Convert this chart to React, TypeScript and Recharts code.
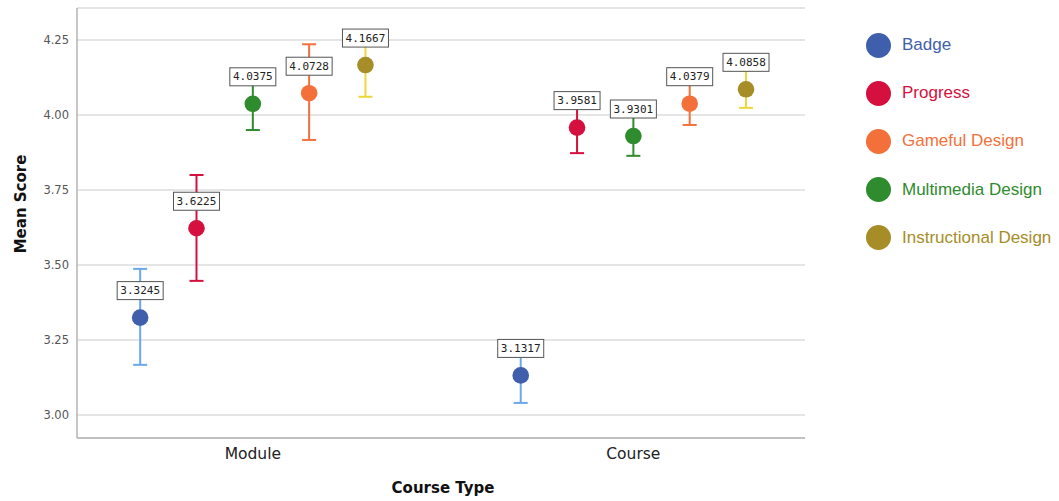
import React from 'react';
import {
  ScatterChart,
  Scatter,
  XAxis,
  YAxis,
  CartesianGrid,
  ErrorBar,
  LabelList,
} from 'recharts';

// Data
const categories = ['Module', 'Course'];
const seriesNames = ['Badge', 'Progress', 'Gameful Design', 'Multimedia Design', 'Instructional Design'];
const badgeMean = [3.3245, 3.1317];
const badgeLow = [3.167, 3.04];
const badgeHigh = [3.487, 3.22];
const progressMean = [3.6225, 3.9581];
const progressLow = [3.447, 3.873];
const progressHigh = [3.8, 4.048];
const gamefulMean = [4.0728, 4.0379];
const gamefulLow = [3.917, 3.967];
const gamefulHigh = [4.236, 4.108];
const multimediaMean = [4.0375, 3.9301];
const multimediaLow = [3.95, 3.864];
const multimediaHigh = [4.125, 3.996];
const instructionalMean = [4.1667, 4.0858];
const instructionalLow = [4.061, 4.024];
const instructionalHigh = [4.272, 4.148];
const yTicks = [3.0, 3.25, 3.5, 3.75, 4.0, 4.25];

// Colors
const markerColors = ['#3f5fad', '#d5103f', '#f3703a', '#2e8b2e', '#a68d27'];
const errorColors = ['#6aa8ec', '#d5103f', '#f3703a', '#2e8b2e', '#ecd83a'];

// slot within each category: Badge, Progress, Multimedia (centre), Gameful, Instructional
const slots = [-2, -1, 1, 0, 2];
const SLOT_W = 0.148;

const buildSeries = (mean: number[], low: number[], high: number[], slot: number) =>
  categories.map((c, i) => ({
    x: i + 1 + slot * SLOT_W,
    y: mean[i],
    err: [mean[i] - low[i], high[i] - mean[i]],
  }));

const seriesData = [
  buildSeries(badgeMean, badgeLow, badgeHigh, slots[0]),
  buildSeries(progressMean, progressLow, progressHigh, slots[1]),
  buildSeries(gamefulMean, gamefulLow, gamefulHigh, slots[2]),
  buildSeries(multimediaMean, multimediaLow, multimediaHigh, slots[3]),
  buildSeries(instructionalMean, instructionalLow, instructionalHigh, slots[4]),
];

const ValueBox = (props: any) => {
  const vb = props.viewBox && props.viewBox.width !== undefined ? props.viewBox : props;
  const cx = vb.x + (vb.width || 0) / 2;
  const cy = vb.y + (vb.height || 0) / 2;
  const text = Number(props.value).toFixed(4);
  return (
    <g>
      <rect x={cx - 23} y={cy - 36} width={46} height={18} fill="#ffffff" stroke="#555" strokeWidth={1} />
      <text
        x={cx}
        y={cy - 27}
        textAnchor="middle"
        dominantBaseline="central"
        style={{ fontFamily: 'DejaVu Sans Mono, monospace', fontSize: 11, fill: '#222' }}
      >
        {text}
      </text>
    </g>
  );
};

export default function App() {
  return (
    <div style={{ position: 'absolute', left: 0, top: 0, width: 1059, height: 501, background: '#fff' }}>
      <ScatterChart
        width={1059}
        height={501}
        margin={{ top: 8, right: 254, bottom: 0, left: 0 }}
      >
        <CartesianGrid horizontal vertical={false} stroke="#dcdcdc" strokeWidth={1.5} />
        <XAxis
          type="number"
          dataKey="x"
          domain={[0.538, 2.451]}
          ticks={[1, 2]}
          interval={0}
          allowDataOverflow
          tickFormatter={(v) => categories[Math.round(v) - 1]}
          height={63}
          axisLine={{ stroke: '#b5b5b5', strokeWidth: 1.5 }}
          tickLine={false}
          tickMargin={4}
          tick={{ fontFamily: 'DejaVu Sans', fontSize: 15.5, fill: '#222' }}
          label={{
            content: () => (
              <text
                x={443}
                y={488}
                textAnchor="middle"
                dominantBaseline="central"
                style={{ fontFamily: 'DejaVu Sans', fontSize: 15, fontWeight: 'bold', fill: '#111' }}
              >
                Course Type
              </text>
            ),
          }}
        />
        <YAxis
          type="number"
          dataKey="y"
          domain={[2.923, 4.357]}
          ticks={yTicks}
          interval={0}
          allowDataOverflow
          width={77}
          tickFormatter={(v) => Number(v).toFixed(2)}
          axisLine={{ stroke: '#b5b5b5', strokeWidth: 1.5 }}
          tickLine={false}
          tick={{ fontFamily: 'DejaVu Sans', fontSize: 11.5, fill: '#555' }}
          label={{
            content: () => (
              <text
                x={21}
                y={204}
                transform="rotate(-90 21 204)"
                textAnchor="middle"
                dominantBaseline="central"
                style={{ fontFamily: 'DejaVu Sans', fontSize: 15, fontWeight: 'bold', fill: '#111' }}
              >
                Mean Score
              </text>
            ),
          }}
        />
        {seriesData.map((data, s) => (
          <Scatter
            key={seriesNames[s]}
            name={seriesNames[s]}
            data={data}
            isAnimationActive={false}
            shape={(p: any) => <circle cx={p.cx} cy={p.cy} r={8.3} fill={markerColors[s]} />}
          >
            <ErrorBar dataKey="err" direction="y" width={7} stroke={errorColors[s]} strokeWidth={2} />
            <LabelList dataKey="y" content={ValueBox} />
          </Scatter>
        ))}
      </ScatterChart>
      {seriesNames.map((name, i) => (
        <div
          key={name}
          style={{
            position: 'absolute',
            left: 866,
            top: 45 + i * 48.2 - 13,
            height: 26,
            display: 'flex',
            alignItems: 'center',
          }}
        >
          <div style={{ width: 25, height: 25, borderRadius: '50%', background: markerColors[i] }} />
          <span
            style={{
              marginLeft: 11,
              fontFamily: 'Liberation Sans, Arial, sans-serif',
              fontSize: 17,
              color: markerColors[i],
            }}
          >
            {name}
          </span>
        </div>
      ))}
    </div>
  );
}
